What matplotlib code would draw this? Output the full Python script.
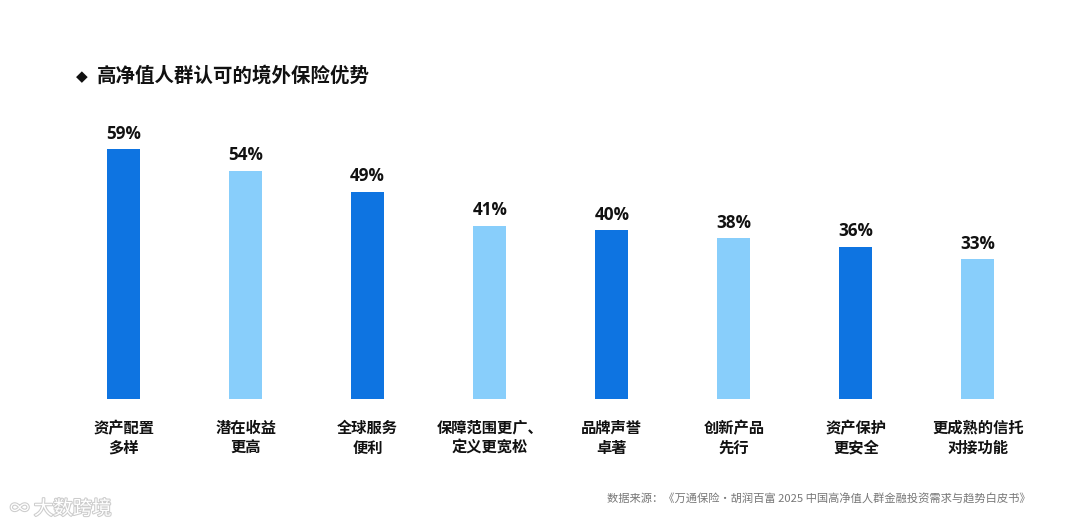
import matplotlib.pyplot as plt
import matplotlib.patheffects as pe

plt.rcParams['font.family'] = ['Noto Sans CJK SC', 'DejaVu Sans']

categories = ["资产配置\n多样", "潜在收益\n更高", "全球服务\n便利", "保障范围更广、\n定义更宽松",
              "品牌声誉\n卓著", "创新产品\n先行", "资产保护\n更安全", "更成熟的信托\n对接功能"]
values = [59, 54, 49, 41, 40, 38, 36, 33]
dark_blue = "#0E74E1"
light_blue = "#88CEFB"
colors = [dark_blue if i % 2 == 0 else light_blue for i in range(len(values))]

W, H = 1080, 529
fig = plt.figure(figsize=(W / 100, H / 100), dpi=100)
fig.patch.set_facecolor("white")

# axes placed in pixel terms: zero line at y=399, bars every ~122 px
left, right, bottom, top = 62.5, 1039.0, 130.0, 429.0
ax = fig.add_axes([left / W, bottom / H, (right - left) / W, (top - bottom) / H])
x = range(len(values))
ax.bar(x, values, width=0.27, color=colors)
ax.set_xlim(-0.5, 7.5)
ax.set_ylim(0, (top - bottom) / 4.23)

for xi, v in zip(x, values):
    ax.annotate(f"{v}%", (xi, v), xytext=(0, 4.5), textcoords="offset points",
                ha="center", va="bottom", fontsize=12.3, fontweight="bold", color="#111111",
                family=['Open Sans', 'DejaVu Sans'])

ax.set_xticks(list(x))
ax.set_xticklabels(categories, fontsize=11, fontweight="bold", color="#111111", linespacing=1.3)
ax.tick_params(axis="x", length=0, pad=15)
ax.set_yticks([])
for s in ax.spines.values():
    s.set_visible(False)

fig.text(76 / W, 1 - 77 / H, "◆", fontsize=11, color="#111111", va="center", ha="left",
         family=['DejaVu Sans'])
fig.text(97 / W, 1 - 76 / H, "高净值人群认可的境外保险优势", fontsize=14, fontweight="bold",
         color="#111111", va="center", ha="left")

fig.text(1031 / W, 1 - 499 / H, "数据来源：《万通保险·胡润百富 2025 中国高净值人群金融投资需求与趋势白皮书》",
         fontsize=8.1, color="#777777", va="center", ha="right")

wm = fig.text(10 / W, 1 - 509 / H, "∞ 大数跨境", fontsize=14, color="white", va="center", ha="left",
              family=['Noto Sans CJK SC', 'DejaVu Sans'])
wm.set_path_effects([pe.withStroke(linewidth=1.5, foreground="#cccccc")])

fig.savefig("out.png", dpi=100, facecolor="white")
